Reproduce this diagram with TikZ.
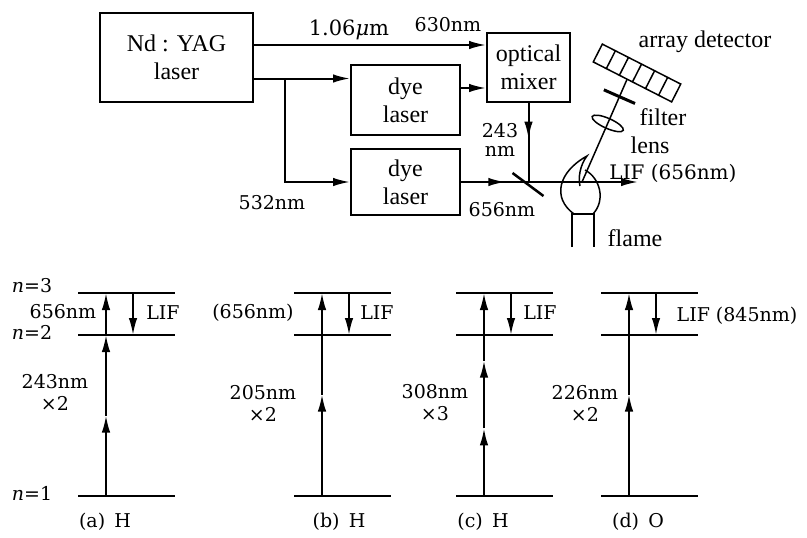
\documentclass[tikz,border=0pt]{standalone}
\usepackage{fontspec}
\setmainfont{Liberation Serif}
\newfontfamily\dejavu{DejaVu Serif}
\usetikzlibrary{arrows.meta,calc,decorations.markings}

\tikzset{
  box/.style={draw, align=center, inner sep=0pt, font={\fontsize{24}{28}\selectfont}},
  note/.style={font={\dejavu\fontsize{19}{22}\selectfont}, align=center, inner sep=1pt},
  tag/.style={font={\fontsize{24}{26}\selectfont}, inner sep=1pt},
  midarrow/.style={postaction={decorate},
    decoration={markings, mark=at position #1 with {\arrow{>}}}},
}

\begin{document}
\begin{tikzpicture}[x=1pt, y=-1pt, line width=2pt, >={Latex[length=17pt,width=8.5pt]}]
\useasboundingbox (0,0) rectangle (807,538);

% lasers and mixer
\node[box, minimum width=153pt, minimum height=89pt] (yag) at (176.5,57.5) {Nd : YAG\\laser};
\node[box, minimum width=109pt, minimum height=70pt] (dye1) at (405.5,100) {dye\\laser};
\node[box, minimum width=109pt, minimum height=66pt] (dye2) at (405.5,182) {dye\\laser};
\node[box, minimum width=83pt, minimum height=69pt] (mixer) at (528.5,67.5) {optical\\mixer};

% beams
\coordinate (ir) at ([yshift=12.5pt]yag.east);
\coordinate (green) at ([yshift=-21pt]yag.east);
\coordinate (split) at ($(green)+(31,0)$);
\coordinate (red1) at ([yshift=12pt]dye1.east);
\coordinate (mirror) at (mixer.south |- dye2.east);
\coordinate (beamend) at (638,182);
\draw[->] (ir) -- (mixer.west |- ir);
\draw[->] (green) -- (dye1.west |- green);
\draw[->] (split) |- (dye2.west);
\draw[->] (red1) -- (mixer.west |- red1);
\draw[midarrow=0.45] (mixer.south) -- (mirror);
\draw[->, midarrow=0.25] (dye2.east) -- (beamend);
\draw[line width=2.5pt] ($(mirror)+(-16,-9)$) -- ($(mirror)+(15,14)$);

\node[note, font={\dejavu\fontsize{21}{22}\selectfont}] (l106) at (349,30) {1.06{\itshape μ}m};
\node[note] (l630) at (448,25) {630nm};
\node[note] (l243) at (500,131) {243};
\node[note] (l243nm) at (500,151) {nm};
\node[note] (l532) at (272,203) {532nm};
\node[note] (l656) at (502,210) {656nm};

% detector, filter, lens
\coordinate (spot) at (582,182);
\begin{scope}[shift={(637,73)}, rotate=-27, line width=1.5pt]
  \draw (-44,-10) rectangle (44,10);
  \foreach \i in {1,...,5}
    \draw (-44+\i*88/6,-10) -- (-44+\i*88/6,10);
  \coordinate (detfoot) at (-6,10);
\end{scope}
\coordinate (filterpos) at ($(spot)!0.83!(detfoot)$);
\coordinate (lenspos) at ($(spot)!0.57!(detfoot)$);
\draw[line width=1.5pt] (spot) -- (detfoot);
\draw[line width=3pt] ($(filterpos)!17pt!90:(detfoot)$) -- ($(filterpos)!17pt!-90:(detfoot)$);
\draw[line width=1.5pt, rotate around={-24:(lenspos)}] (lenspos) ellipse [x radius=17pt, y radius=5pt];

% flame and burner
\draw[line width=1.5pt] (574,214) .. controls (552,198) and (558,172) .. (587,156)
  .. controls (580,165) and (578,178) .. (580,186);
\draw[line width=1.5pt] (585,170) .. controls (600,178) and (606,200) .. (593,214);
\draw[line width=1.5pt] (572,247) -- (572,214) -- (594,214) -- (594,247);

\node[tag] (det) at (705,42) {array detector};
\node[tag] (filt) at (663,117) {filter};
\node[tag] (lens) at (650,145) {lens};
\node[note, font={\dejavu\fontsize{20}{22}\selectfont}] (lif) at (673,173) {LIF (656nm)};
\node[tag] (flame) at (635,238) {flame};

% energy levels
\foreach \dg/\x in {a/78,b/294,c/456,d/601}{
  \draw (\x,293) -- ++(97,0);
  \draw (\x,335) -- ++(97,0);
  \draw (\x,496) -- ++(97,0);
  \coordinate (\dg1) at (\x+28,496);
  \coordinate (\dg2) at (\x+28,335);
  \coordinate (\dg3) at (\x+28,293);
  \coordinate (\dg3f) at (\x+55,293);
  \coordinate (\dg2f) at (\x+55,335);
  \draw[->] (\dg3f) -- (\dg2f);
}

% (a) H
\coordinate (a12) at ($(a1)!.5!(a2)$);
\draw[->] (a1) -- (a12);
\draw[->] (a12) -- (a2);
\draw[->] (a2) -- (a3);
% (b) H
\coordinate (b13) at ($(b1)!.5!(b3)$);
\draw[->] (b1) -- (b13);
\draw[->] (b13) -- (b3);
% (c) H
\coordinate (c13) at ($(c1)!1/3!(c3)$);
\coordinate (c23) at ($(c1)!2/3!(c3)$);
\draw[->] (c1) -- (c13);
\draw[->] (c13) -- (c23);
\draw[->] (c23) -- (c3);
% (d) O
\coordinate (d13) at ($(d1)!.5!(d3)$);
\draw[->] (d1) -- (d13);
\draw[->] (d13) -- (d3);

\node[note] (an3) at (32,286) {{\itshape n}=3};
\node[note] (an2) at (32,332) {{\itshape n}=2};
\node[note] (an1) at (32,493) {{\itshape n}=1};
\node[note] (a656) at (63,312) {656nm};
\node[note] (alif) at (163,313) {LIF};
\node[note] (aexc) at (55,392) {243nm\\×2};
\node[note] (acap) at (105,522) {(a)\, H};

\node[note] (b656) at (253,313) {(656nm)};
\node[note] (blif) at (377,313) {LIF};
\node[note] (bexc) at (263,403) {205nm\\×2};
\node[note] (bcap) at (339,522) {(b)\, H};

\node[note] (clif) at (540,313) {LIF};
\node[note] (cexc) at (435,403) {308nm\\×3};
\node[note] (ccap) at (483,522) {(c)\, H};

\node[note] (dlif) at (737,316) {LIF (845nm)};
\node[note] (dexc) at (585,403) {226nm\\×2};
\node[note] (dcap) at (638,522) {(d)\, O};
\end{tikzpicture}
\end{document}
